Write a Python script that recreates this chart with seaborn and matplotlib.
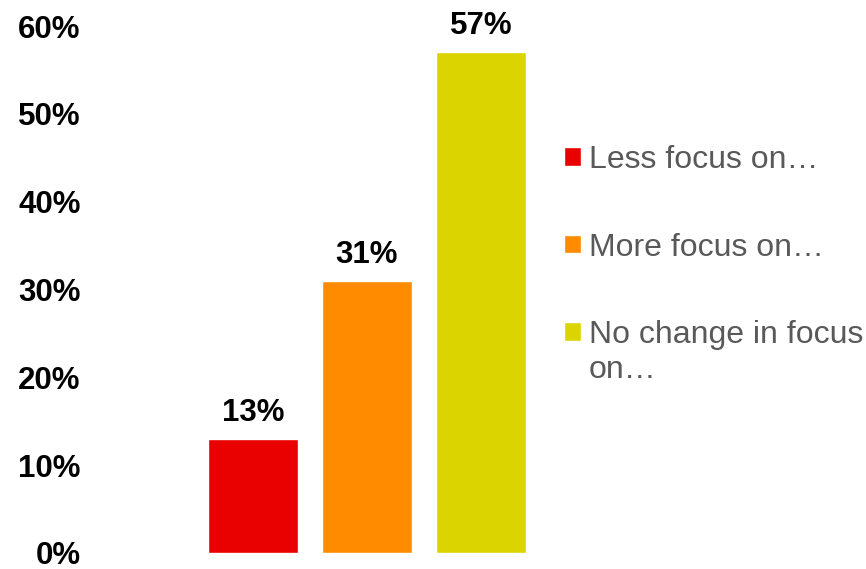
import matplotlib
matplotlib.use("Agg")
import matplotlib.pyplot as plt
import seaborn as sns
import pandas as pd

# Survey response shares (percent)
categories = ["Less focus on…", "More focus on…", "No change in focus on…"]
legend_labels = ["Less focus on…", "More focus on…", "No change in focus"]
legend_wrap = "on…"
values = [13, 31, 57]
colors = ["#E90000", "#FF8B00", "#DCD400"]
yticks = [0, 10, 20, 30, 40, 50, 60]

sns.set_theme(style="white")
plt.rcParams["font.family"] = ["Liberation Sans", "DejaVu Sans"]

W, H = 866, 569
fig = plt.figure(figsize=(W / 100, H / 100), dpi=100)
ax = fig.add_axes([100 / W, 16 / H, 440 / W, 527 / H])

df = pd.DataFrame({"category": categories, "value": values})
sns.barplot(data=df, x="category", y="value", hue="category",
            palette=colors, width=90 / 114, saturation=1, legend=False, ax=ax)

ax.set_xlim(-1.342, 2.518)
ax.set_ylim(0, 60)
ax.set_yticks(yticks)
ax.set_yticklabels([f"{t}%" for t in yticks], fontsize=22.5, fontweight="bold", color="black")
ax.tick_params(axis="y", length=0, pad=14)
ax.set_xticks([])
ax.set_xlabel("")
ax.set_ylabel("")
for s in ax.spines.values():
    s.set_visible(False)

for cont in ax.containers:
    ax.bar_label(cont, labels=[f"{v:.0f}%" for v in cont.datavalues],
                 padding=8, fontsize=22.5, fontweight="bold", color="black")

legend_size = 23
handles = [bar for cont in ax.containers for bar in cont]
leg = fig.legend(handles, legend_labels, loc="upper left",
                 bbox_to_anchor=(564 / W, 1 - 145 / H), frameon=False,
                 fontsize=legend_size, labelcolor="#595959", handlelength=0.52,
                 handleheight=0.52, handletextpad=0.25, labelspacing=1.8,
                 borderpad=0, borderaxespad=0)

# Second line of the last legend entry, set under its first line
fig.canvas.draw()
bb = leg.get_texts()[-1].get_window_extent()
fig.text(bb.x0 / W, (bb.y0 - 35) / H, legend_wrap, fontsize=legend_size,
         color="#595959", ha="left", va="bottom")

fig.savefig("out.png", dpi=100)
